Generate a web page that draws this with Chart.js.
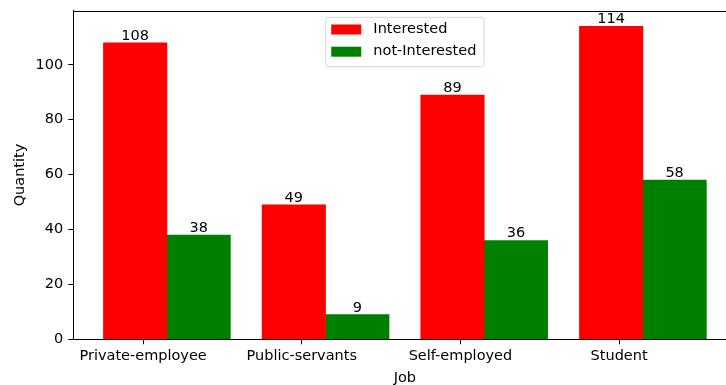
<!DOCTYPE html>
<html>
<head>
<meta charset="utf-8">
<script src="https://cdn.jsdelivr.net/npm/chart.js@4"></script>
<style>
  html, body { margin: 0; padding: 0; background: #fff; overflow: hidden; }
  #wrap { width: 740px; height: 385px; position: relative; }
</style>
</head>
<body>
<div id="wrap"><canvas id="c"></canvas></div>
<script>
const categories = ['Private-employee', 'Public-servants', 'Self-employed', 'Student'];
const interested = [108, 49, 89, 114];
const notInterested = [38, 9, 36, 58];
const yTicks = [0, 20, 40, 60, 80, 100];
const seriesNames = ['Interested', 'not-Interested'];

const FONT = 'DejaVu Sans';
const FS = 14.5;
Chart.defaults.font.family = FONT;
Chart.defaults.font.size = FS;
Chart.defaults.color = '#000';

const BAR_W = 0.4;
const RED_OFF = -0.05;   // bar centre offsets relative to tick position
const GREEN_OFF = RED_OFF + BAR_W;

const valueLabels = {
  id: 'valueLabels',
  afterDatasetsDraw(chart) {
    const ctx = chart.ctx;
    ctx.save();
    ctx.font = `${FS}px "${FONT}"`;
    ctx.fillStyle = '#000';
    ctx.textAlign = 'center';
    ctx.textBaseline = 'alphabetic';
    chart.data.datasets.forEach((ds, di) => {
      const meta = chart.getDatasetMeta(di);
      meta.data.forEach((bar, i) => {
        ctx.fillText(String(ds.data[i].y), bar.x, bar.y - 3);
      });
    });
    ctx.restore();
  }
};

const frame = {
  id: 'frame',
  afterDraw(chart) {
    const {ctx, chartArea: a} = chart;
    ctx.save();
    ctx.strokeStyle = '#000';
    ctx.lineWidth = 1;
    ctx.beginPath();
    ctx.moveTo(a.left, Math.round(a.top) + 0.5);
    ctx.lineTo(a.right, Math.round(a.top) + 0.5);
    ctx.moveTo(Math.round(a.right) + 0.5, a.top);
    ctx.lineTo(Math.round(a.right) + 0.5, a.bottom);
    ctx.stroke();

    // legend (upper center)
    const w = 158.3, h = 49.4;
    const cx = (a.left + a.right) / 2;
    const lx = cx - w / 2, ly = a.top + 6.6;
    const r = 3;
    ctx.beginPath();
    ctx.moveTo(lx + r, ly);
    ctx.lineTo(lx + w - r, ly);
    ctx.quadraticCurveTo(lx + w, ly, lx + w, ly + r);
    ctx.lineTo(lx + w, ly + h - r);
    ctx.quadraticCurveTo(lx + w, ly + h, lx + w - r, ly + h);
    ctx.lineTo(lx + r, ly + h);
    ctx.quadraticCurveTo(lx, ly + h, lx, ly + h - r);
    ctx.lineTo(lx, ly + r);
    ctx.quadraticCurveTo(lx, ly, lx + r, ly);
    ctx.closePath();
    ctx.fillStyle = 'rgba(255,255,255,0.8)';
    ctx.fill();
    ctx.strokeStyle = 'rgba(204,204,204,0.8)';
    ctx.stroke();

    ctx.font = `${FS}px "${FONT}"`;
    ctx.textAlign = 'left';
    ctx.textBaseline = 'middle';
    chart.data.datasets.forEach((ds, i) => {
      const rowY = ly + 12.2 + i * 22.2;
      ctx.fillStyle = ds.backgroundColor;
      ctx.fillRect(lx + 5.5, rowY - 5, 30, 10);
      ctx.fillStyle = '#000';
      ctx.fillText(ds.label, lx + 47.6, rowY);
    });
    ctx.restore();
  }
};

new Chart(document.getElementById('c'), {
  type: 'bar',
  data: {
    datasets: [
      {
        label: seriesNames[0],
        data: interested.map((v, i) => ({x: i + RED_OFF, y: v})),
        backgroundColor: '#ff0000'
      },
      {
        label: seriesNames[1],
        data: notInterested.map((v, i) => ({x: i + GREEN_OFF, y: v})),
        backgroundColor: '#008000'
      }
    ]
  },
  options: {
    responsive: true,
    maintainAspectRatio: false,
    animation: false,
    grouped: false,
    barPercentage: 1,
    categoryPercentage: 1,
    borderWidth: 0,
    layout: { padding: { top: 10.7, left: 0, right: 3.5, bottom: 0 } },
    plugins: { legend: { display: false }, tooltip: { enabled: false } },
    scales: {
      x: {
        type: 'linear',
        offset: false,
        min: -0.44,
        max: 3.74,
        afterBuildTicks(scale) { scale.ticks = categories.map((_, i) => ({value: i})); },
        afterFit(scale) { scale.height = 45.7; scale.paddingLeft = 0; scale.paddingRight = 0; },
        ticks: {
          autoSkip: false, maxRotation: 0, padding: 3,
          callback: (v, idx) => categories[idx]
        },
        grid: { display: true, offset: false, drawOnChartArea: false, drawTicks: true, tickLength: 5, tickColor: '#000', tickWidth: 1 },
        border: { display: true, color: '#000', width: 1 },
        title: { display: true, text: 'Job', font: { size: FS, lineHeight: 1 }, padding: 0, color: '#000' }
      },
      y: {
        min: 0,
        max: 119.7,
        afterBuildTicks(scale) { scale.ticks = yTicks.map(v => ({value: v})); },
        afterFit(scale) { scale.width = 73.3; scale.paddingTop = 0; scale.paddingBottom = 0; },
        ticks: { padding: 5 },
        grid: { display: true, drawOnChartArea: false, drawTicks: true, tickLength: 5, tickColor: '#000', tickWidth: 1 },
        border: { display: true, color: '#000', width: 1 },
        title: { display: true, text: 'Quantity', font: { size: FS, lineHeight: 1 }, padding: { top: 12.5, bottom: 0 }, color: '#000' }
      }
    }
  },
  plugins: [valueLabels, frame]
});
</script>
</body>
</html>
